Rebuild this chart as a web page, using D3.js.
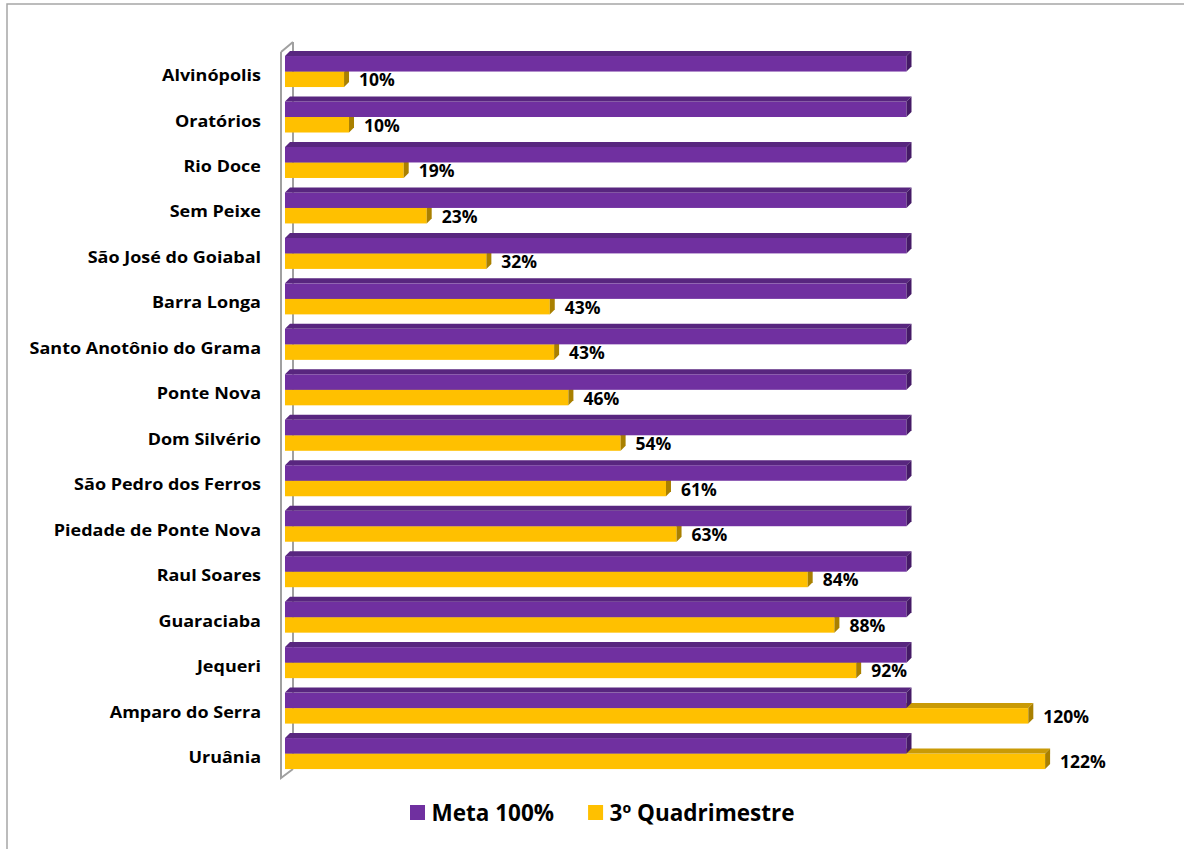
<!DOCTYPE html>
<html><head><meta charset="utf-8">
<script src="https://cdn.jsdelivr.net/npm/d3@7"></script>
<style>body{margin:0;background:#fff}svg{display:block}</style>
</head><body>
<svg id="chart" width="1184" height="849"></svg>
<script>
// ---- data ----
const categories = ["Alvinópolis","Oratórios","Rio Doce","Sem Peixe","São José do Goiabal","Barra Longa",
  "Santo Anotônio do Grama","Ponte Nova","Dom Silvério","São Pedro dos Ferros","Piedade de Ponte Nova",
  "Raul Soares","Guaraciaba","Jequeri","Amparo do Serra","Uruânia"];
const metaValues = [100,100,100,100,100,100,100,100,100,100,100,100,100,100,100,100];
const quadValues = [9.5,10.3,19.1,22.8,32.4,42.6,43.3,45.6,54.0,61.3,63.0,84.1,88.4,91.9,119.6,122.3];
const seriesNames = ["Meta 100%","3º Quadrimestre"];

// ---- styles ----
const colors = {
  meta: {front:"#7030a0", top:"#58267f", side:"#451a66"},
  quad: {front:"#ffc000", top:"#c99a06", side:"#a98000"}
};
const depth = 5;
const font = "'Open Sans', 'Noto Sans', sans-serif";

const svg = d3.select("#chart");

// frame
svg.append("path")
  .attr("d","M7,860 L7,4 L1200,4")
  .attr("fill","none").attr("stroke","#a6a6a6").attr("stroke-width",1.5);

const x = d3.scaleLinear().domain([0,100]).range([285,906.5]);
const y = d3.scaleBand().domain(categories).range([48.8,776.3]).paddingInner(0.318).paddingOuter(0.159);
const sub = d3.scaleBand().domain(["meta","quad"]).range([0,y.bandwidth()]);

// walls (axis lines)
const wall = svg.append("g").attr("fill","none").attr("stroke","#a0a0a0").attr("stroke-width",2);
wall.append("path").attr("d","M293,42 L293,769");
wall.append("path").attr("d","M281,52 L293,42 M281,52 L281,778 L293,769");

function bar3d(g, x0, x1, y0, h, c) {
  const y1 = y0 + h;
  g.append("rect").attr("x",x0).attr("y",y0).attr("width",x1-x0).attr("height",h).attr("fill",c.front);
  g.append("path").attr("d",`M${x0},${y0} L${x0+depth},${y0-depth} L${x1+depth},${y0-depth} L${x1},${y0} Z`).attr("fill",c.top);
  g.append("path").attr("d",`M${x1},${y0} L${x1+depth},${y0-depth} L${x1+depth},${y1-depth} L${x1},${y1} Z`).attr("fill",c.side);
}

const rows = svg.append("g");
categories.forEach((cat,i) => {
  const g = rows.append("g");
  const by = y(cat);
  // yellow first (behind), then purple
  bar3d(g, x(0), x(quadValues[i]), by + sub("quad"), sub.bandwidth(), colors.quad);
  bar3d(g, x(0), x(metaValues[i]), by + sub("meta"), sub.bandwidth(), colors.meta);
  // data label
  g.append("text")
    .attr("x", x(quadValues[i]) + depth + 10)
    .attr("y", by + sub("quad") + sub.bandwidth()/2 + 7)
    .attr("font-family", font).attr("font-weight",700).attr("font-size",17.5).attr("fill","#000")
    .text(d3.format(".0f")(quadValues[i]) + "%");
  // category label
  g.append("text")
    .attr("transform", `translate(261,${by + y.bandwidth()/2 + 9.5}) scale(1.125,1)`)
    .attr("text-anchor","end")
    .attr("font-family", font).attr("font-weight",700).attr("font-size",16).attr("fill","#000")
    .text(cat);
});

// legend
const legend = svg.append("g");
const legendColors = [colors.meta.front, colors.quad.front];
let lx = 410;
seriesNames.forEach((name,i) => {
  legend.append("rect").attr("x",lx).attr("y",805).attr("width",15).attr("height",15).attr("fill",legendColors[i]);
  const t = legend.append("text").attr("x",lx+21.5).attr("y",820.5)
    .attr("font-family",font).attr("font-weight",700).attr("font-size",22.5).attr("fill","#000").text(name);
  lx += 21.5 + t.node().getComputedTextLength() + 34;
});
</script>
</body></html>
